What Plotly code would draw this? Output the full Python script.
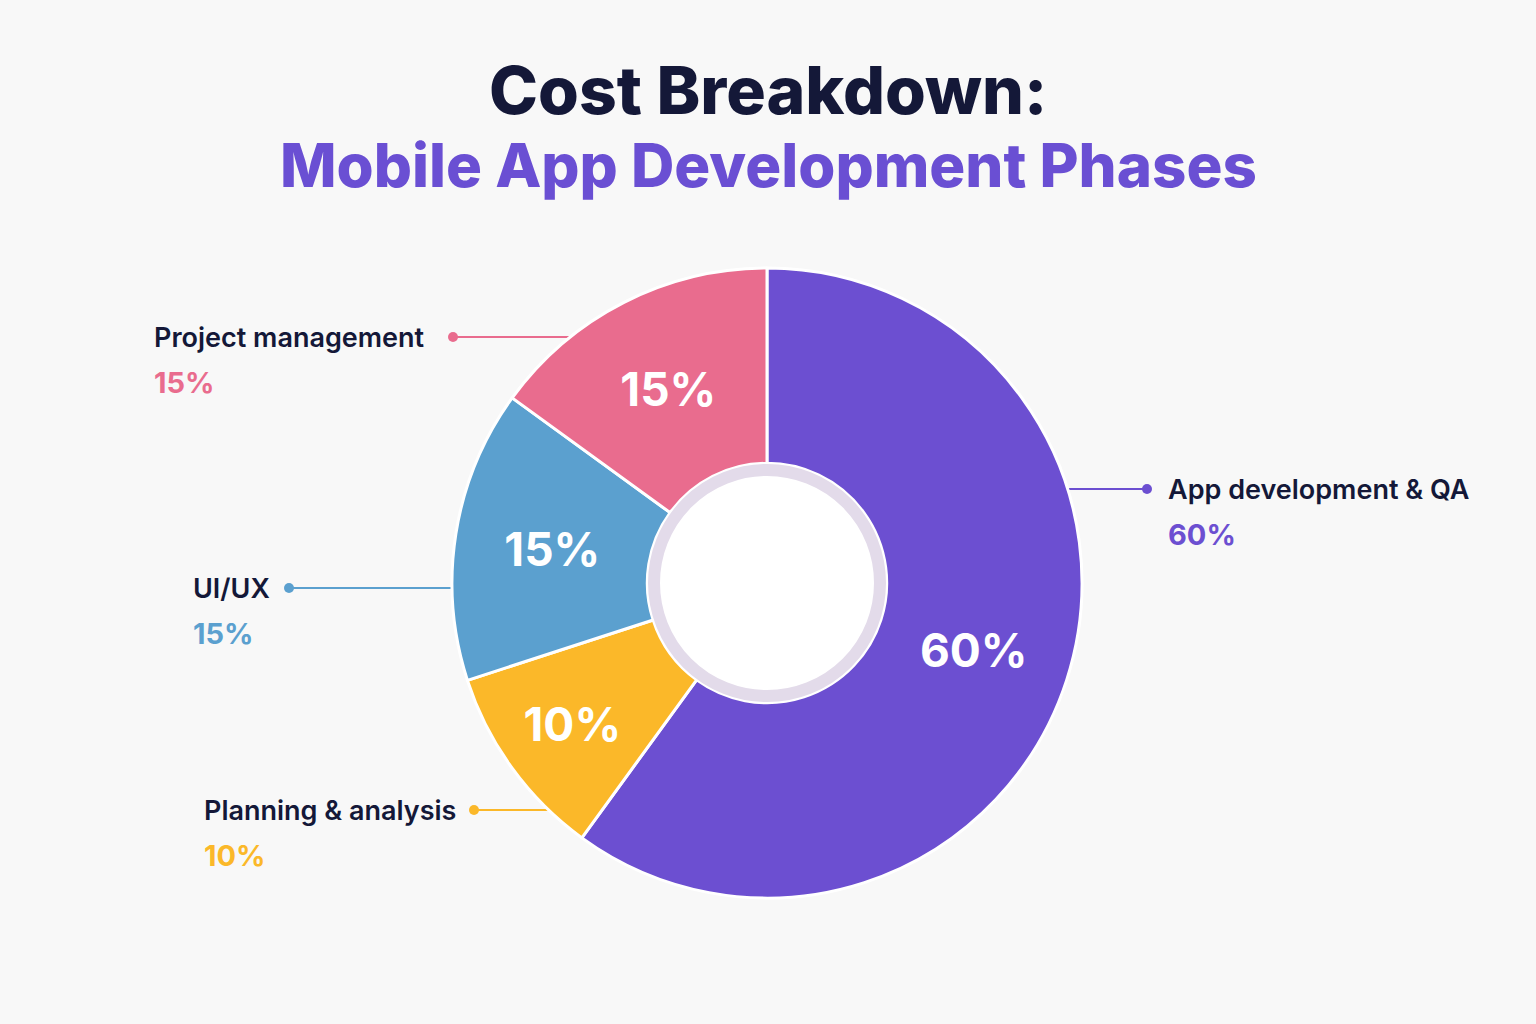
import plotly.graph_objects as go

# ---- data ----
phases = ["App development & QA", "Planning & analysis", "UI/UX", "Project management"]
shares = [60, 10, 15, 15]
colors = ["#6C4FD1", "#FBB829", "#5BA0CF", "#E96C8E"]

W, H = 1536, 1024
CX, CY, R = 767, 583, 315

def px(x):
    return x / W

def py(y):
    return 1 - y / H

fig = go.Figure()
fig.add_trace(go.Pie(
    labels=phases,
    values=shares,
    sort=False,
    direction="clockwise",
    rotation=0,
    hole=0.38,
    marker=dict(colors=colors, line=dict(color="#ffffff", width=3)),
    texttemplate="%{value}%",
    textposition="inside",
    insidetextorientation="horizontal",
    textfont=dict(family="Inter", size=46, color="#ffffff", weight=700),
    domain=dict(x=[px(CX - R), px(CX + R)], y=[py(CY + R), py(CY - R)]),
    showlegend=False,
    hoverinfo="label+percent",
))

shapes = []
annotations = []

# hole ring
rr = 113
shapes.append(dict(type="circle", xref="paper", yref="paper",
                   x0=px(CX - rr), x1=px(CX + rr), y0=py(CY + rr), y1=py(CY - rr),
                   line=dict(color="#e3dbea", width=12), fillcolor="#ffffff", layer="above"))

# label callouts: (name index, dot x, line end x, y, text x)
callouts = [
    (3, 453, 572, 337, 152),
    (0, 1147, 1063, 489, 1166),
    (2, 289, 458, 588, 191),
    (1, 474, 552, 810, 202),
]
for idx, dx, lx, y, tx in callouts:
    shapes.append(dict(type="line", xref="paper", yref="paper",
                       x0=px(dx), x1=px(lx), y0=py(y), y1=py(y),
                       line=dict(color=colors[idx], width=2), layer="below"))
    shapes.append(dict(type="circle", xref="paper", yref="paper",
                       x0=px(dx - 5), x1=px(dx + 5), y0=py(y + 5), y1=py(y - 5),
                       line=dict(width=0), fillcolor=colors[idx]))
    annotations.append(dict(x=px(tx), y=py(y), xref="paper", yref="paper",
                            text=phases[idx], showarrow=False, xanchor="left", yanchor="middle",
                            font=dict(family="Inter", size=27, color="#141838", weight=600)))
    annotations.append(dict(x=px(tx), y=py(y + 45), xref="paper", yref="paper",
                            text=f"{shares[idx]}%", showarrow=False, xanchor="left", yanchor="middle",
                            font=dict(family="Inter", size=29, color=colors[idx], weight=700)))

# title
annotations.append(dict(x=0.5, y=py(90), xref="paper", yref="paper", text="Cost Breakdown:",
                        showarrow=False, xanchor="center", yanchor="middle",
                        font=dict(family="Inter", size=66, color="#141838", weight=800)))
annotations.append(dict(x=0.5, y=py(165), xref="paper", yref="paper", text="Mobile App Development Phases",
                        showarrow=False, xanchor="center", yanchor="middle",
                        font=dict(family="Inter", size=60, color="#6A4FD3", weight=800)))

fig.update_layout(
    width=W, height=H,
    margin=dict(l=0, r=0, t=0, b=0),
    paper_bgcolor="#f8f8f8",
    plot_bgcolor="#f8f8f8",
    shapes=shapes,
    annotations=annotations,
    uniformtext=dict(mode="show", minsize=46),
)

fig.write_html("out.html")
